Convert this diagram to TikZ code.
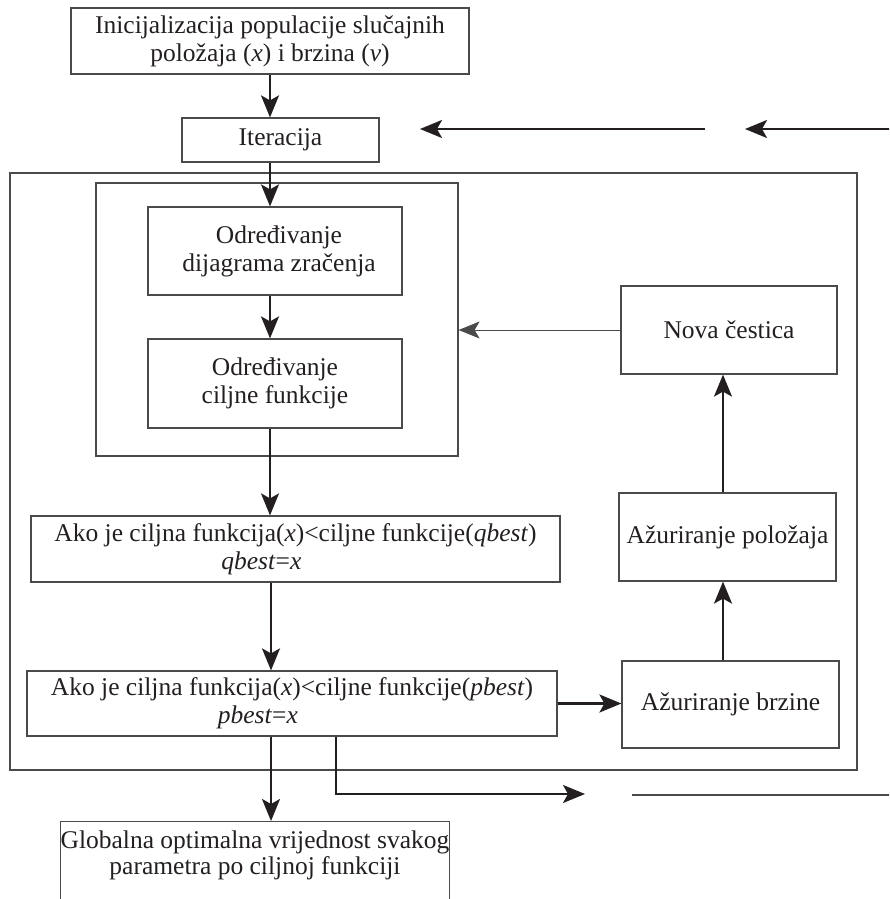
\documentclass[tikz,border=0pt]{standalone}
\usepackage{fontspec}
\setmainfont{Liberation Serif}
\usetikzlibrary{arrows.meta}
\definecolor{ink}{HTML}{231F20}
\definecolor{frame}{HTML}{4A4A4A}
\begin{document}
\begin{tikzpicture}[x=1pt,y=-1pt,
  box/.style={draw=frame, line width=1.2pt, inner sep=0pt, align=center,
    text=ink, font=\fontsize{25.5}{28}\selectfont},
  group/.style={draw=frame, line width=1.2pt, inner sep=0pt},
  arr/.style={draw=ink, line width=2.3pt, -{Stealth[length=22pt,width=18pt,inset=5pt]}},
  thinarr/.style={draw=frame, line width=1pt, -{Stealth[length=21pt,width=17pt,inset=5pt]}},
  plain/.style={draw=frame, line width=1.3pt}]
\useasboundingbox (0,0) rectangle (889,899);
\clip (0,0) rectangle (889,899);
% frames
\node[group, minimum width=847pt, minimum height=597pt] (outer) at (433.5,471.5) {};
\node[group, minimum width=362pt, minimum height=273pt] (inner) at (277,319.5) {};
% boxes
\node[box, minimum width=398pt, minimum height=66pt] (init) at (270,41)
  {Inicijalizacija populacije slučajnih\\ položaja (\textit{x}) i brzina (\textit{v})};
\node[box, minimum width=197pt, minimum height=44pt] (iter) at (280.5,140) {Iteracija};
\node[box, minimum width=254pt, minimum height=88pt] (odr1) at (275,251)
  {\hspace*{8pt}Određivanje\\ \hspace*{8pt}dijagrama zračenja};
\node[box, minimum width=254pt, minimum height=89pt] (odr2) at (275,383.5)
  {Određivanje\\ ciljne funkcije};
\node[box, align=left, minimum width=529pt, minimum height=66pt] (qbest) at (295.5,549)
  {Ako je ciljna funkcija(\textit{x})<ciljne funkcije(\textit{qbest})\\
   \hspace*{167pt}\textit{qbest}=\textit{x}};
\node[box, align=left, minimum width=530pt, minimum height=65pt] (pbest) at (292,703.5)
  {Ako je ciljna funkcija(\textit{x})<ciljne funkcije(\textit{pbest})\\
   \hspace*{167pt}\textit{pbest}=\textit{x}};
\node[box, minimum width=216pt, minimum height=88pt] (nova) at (729,330) {Nova čestica};
\node[box, minimum width=217pt, minimum height=88pt] (poloz) at (727.5,537) {Ažuriranje položaja};
\node[box, minimum width=217pt, minimum height=87pt] (brzine) at (730.5,704.5) {Ažuriranje brzine};
\node[box, anchor=north, inner ysep=9pt, minimum width=364pt] (glob) at (255,821)
  {Globalna optimalna vrijednost svakog\\[-2pt] parametra po ciljnoj funkciji\\ \strut\\ \strut};
% guide coordinates
\coordinate (cA) at (270,0);
\coordinate (cB) at (271,0);
\coordinate (cC) at (723,0);
\coordinate (cD) at (336,0);
\coordinate (turn) at (336,794);
\coordinate (outA) at (585,794);
\coordinate (lineA) at (632,795);
\coordinate (lineB) at (895,795);
\coordinate (t1s) at (705,129);
\coordinate (t1e) at (420,129);
\coordinate (t2s) at (895,129);
\coordinate (t2e) at (745,129);
% connectors
\draw[arr] (cA |- init.south) -- (cA |- iter.north);
\draw[arr] (cA |- iter.south) -- (cA |- odr1.north);
\draw[arr] (cA |- odr1.south) -- (cA |- odr2.north);
\draw[arr] (cA |- odr2.south) -- (cA |- qbest.north);
\draw[arr] (cB |- qbest.south) -- (cB |- pbest.north);
\draw[arr] (cB |- pbest.south) -- (cB |- glob.north);
\draw[arr] (pbest.east) -- (pbest.east -| brzine.west);
\draw[arr] (cC |- brzine.north) -- (cC |- poloz.south);
\draw[arr] (cC |- poloz.north) -- (cC |- nova.south);
\draw[thinarr] (nova.west) -- (nova.west -| inner.east);
\draw[arr, line width=1.8pt] (cD |- pbest.south) -- (turn) -- (outA);
\draw[plain] (lineA) -- (lineB);
\draw[arr] (t1s) -- (t1e);
\draw[arr] (t2s) -- (t2e);
\end{tikzpicture}
\end{document}
